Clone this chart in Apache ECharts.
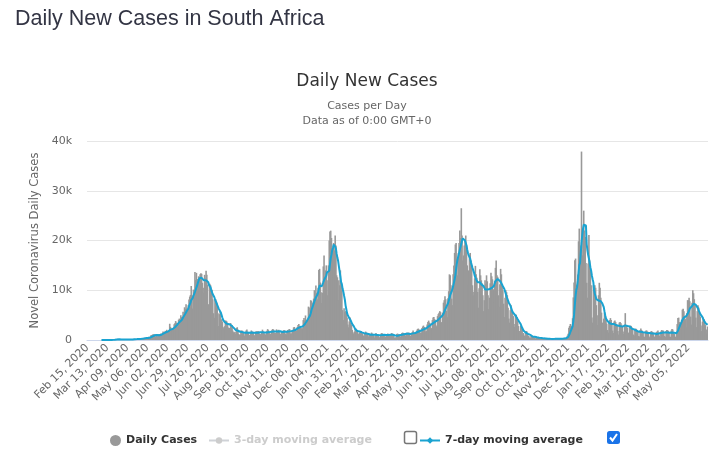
<!DOCTYPE html>
<html>
<head>
<meta charset="utf-8">
<title>Daily New Cases in South Africa</title>
<script src="https://cdn.jsdelivr.net/npm/echarts@6/dist/echarts.min.js"></script>
<style>
  html, body { margin: 0; padding: 0; background: #fff; }
  #chart { width: 722px; height: 459px; }
</style>
</head>
<body>
<div id="chart"></div>
<script>
// daily new cases (Feb 15, 2020 -> May 31, 2022)
const cases2020 = [
  0,0,0,0,0,0,0,0,0,0,0,0,0,0,0, // Feb 15-29
  0,0,0,0,1,0,1,1,4,0,6,4,7,14,13,11,23,31,34,52,38,72,128,152,155,218,243,17,110,46,27, // Mar
  109,82,80,120,79,69,37,78,89,96,25,145,85,86,139,203,178,251,138,142,124,215,318,267,277,143,187,322,354,297, // Apr
  424,385,447,437,250,424,511,663,595,665,1005,577,1102,1160,1079,1083,716,1160,767,767,1134,1193,1162,1282,1218,1240,1716,1579,1606,1837,1716, // May
  2055,1658,1634,1674,3267,2642,2312,1645,2360,2430,3147,3359,3809,3494,2580,3438,4078,4302,3825,4966,4621,4288,5688,4518,6579,6215,7210,6334,6130,7000, // Jun
  8124,8728,9063,10853,8971,6336,10134,8810,13674,12058,13497,12278,10000,12800,12500,13200,13400,13300,11500,9500,10500,13100,12400,13944,13100,11100,7200,6400,11300,11000,10100, // Jul
  10107,8195,5377,4456,8307,8148,7712,7346,5385,2810,5195,5847,4086,4173,3692,2541,2258,2775,3916,3880,3707,3398,2505,2105,2426,3409,2997,3000,1895,1567,1502, // Aug
  1675,1218,2420,2563,2046,1212,1051,1079,1923,1884,1871,1440,1133,772,1373,1923,2128,1587,1553,925,1008,1554,1923,1700,1645,1568,961,832,1689,1767, // Sep
  1688,1807,1672,1271,1145,1216,1573,2081,1707,1549,1200,1015,1284,1864,2192,1979,1563,1107,1242,1744,2056,2191,2065,1484,1078,1405,2142,1928,1884,2055,1543, // Oct
  1259,1100,1629,1778,1877,2023,1935,1271,1149,1606,2023,1934,2213,2101,1310,1303,1933,1954,2536,2608,2280,1839,1893,2634,3010,3220,2843,2806,2270,2389, // Nov
  2346,4000,4400,3877,4932,3313,3523,4011,6709,5163,6510,7999,7882,6143,7552,8319,10008,9126,10939,9501,8166,10500,14046,14305,11552,9580,7458,9502,14796,17000,12601 // Dec
];
const cases2021 = [
  14000,15002,12000,9000,15000,20000,21832,21980,20500,18000,12500,19500,18000,21000,19000,13000,12600,8000,12000,11000,14000,11000,10000,6000,4000,6400,5600,5800,5500,4500,3100, // Jan
  2548,3742,4525,3474,2999,2036,1510,1200,1700,2300,2300,1900,1700,1300,1000,1500,1800,1800,1600,1300,900,700,1300,1700,1500,1300,1200,700, // Feb
  1000,600,1100,1500,1300,1200,900,500,900,1400,1200,1100,1000,600,500,1000,1300,1400,1200,1100,900,500,700,1200,1100,1300,1200,900,600,1000,1400, // Mar
  1300,1000,800,500,400,600,1200,1300,1100,1200,1000,600,900,1400,1500,1400,1300,1000,800,1300,1500,1400,1500,1200,900,800,1400,1600,1900,1500, // Apr
  1500,1200,1100,1900,2200,2300,2100,1900,1400,1500,2400,2700,2900,2600,2500,1700,1800,3100,3600,3900,3500,3300,2200,2400,4000,4500,4600,4200,4000,2900,2600, // May
  4800,5200,5500,5800,5600,3600,3200,5500,7500,8000,8800,8200,5900,4600,8400,9800,13200,13000,11000,8300,7000,13200,15000,17500,19200,19500,16300,13000,17500,19500, // Jun
  22000,20500,26485,21000,16000,17000,19000,20000,21000,19000,15000,11000,14000,17000,17500,16000,15000,11000,9000,9700,12400,14900,13200,12500,9700,6500,10400,14200,13000,12000,11400, // Jul
  9000,5800,8000,12000,11300,13000,11800,9000,6200,8500,11400,13500,12800,12200,10200,7500,11900,14500,16000,13000,12700,9000,6700,11200,14300,13200,11200,10000,7300,4600,8500, // Aug
  10000,9600,9000,6500,4300,3500,6000,7000,6200,5900,4800,3200,2600,5000,5100,4600,3800,2800,1800,1400,2900,2500,2000,1100,1400,900,700,1700,1800,1200, // Sep
  900,800,500,400,800,900,700,650,600,400,300,500,600,550,500,350,250,200,350,450,350,350,300,200,150,250,350,300,280,220,150, // Oct
  120,180,300,280,330,250,180,110,250,360,320,310,220,160,200,330,400,380,450,420,310,280,868,1275,2465,2828,3220,2858,2273,4373, // Nov
  8561,11535,16055,16366,11125,6381,13147,19842,22391,19018,17857,37875,17000,22000,26000,22000,20713,15500,11500,8500,15400,21100,16000,14000,11000,4500,3500,11000,10000,11000,10500 // Dec
];
const cases2022 = [
  7000,5000,3000,9000,11500,10500,8500,5500,3500,2400,4300,5500,4900,4300,3300,2000,1500,3600,4000,4400,4000,3000,1900,1400,3700,3900,3600,3200,2800,1800,1100, // Jan
  3500,3600,3400,3100,2700,1700,1200,3100,5400,3000,2800,2400,1500,1200,2600,2900,2800,2500,2100,1100,900,2000,2300,2200,1900,1600,800,700, // Feb
  2000,2300,2000,1800,1400,700,600,1700,1900,1900,1700,1300,700,500,1600,1800,1700,1600,1200,700,600,1100,1600,1700,1900,1500,900,600,1700,2000,1900, // Mar
  1900,1500,800,600,1800,2000,2000,1800,1400,700,600,1900,2200,2100,1600,1200,700,600,1200,3200,4400,4500,3600,3500,2200,4000,6100,6300,5800,4600, // Apr
  4200,2500,5400,8000,8000,8500,7800,4700,3100,7500,10000,9400,8200,7000,4500,2600,5800,7000,6500,5600,4700,2900,1800,3700,4500,4200,3700,3000,2100,1300,2700 // May
];
const dailyCases = cases2020.concat(cases2021, cases2022);

const yTicks = [0, 10000, 20000, 30000, 40000];
const MONTHS = ['Jan','Feb','Mar','Apr','May','Jun','Jul','Aug','Sep','Oct','Nov','Dec'];
const startDay = Date.UTC(2020, 1, 15);
const dates = dailyCases.map((_, i) => {
  const d = new Date(startDay + i * 86400000);
  return MONTHS[d.getUTCMonth()] + ' ' + String(d.getUTCDate()).padStart(2, '0') + ', ' + d.getUTCFullYear();
});

// trailing moving average, starting at the first reported case
const firstCase = dailyCases.findIndex(v => v > 0);
function movingAvg(values, n) {
  return values.map((v, i) => {
    if (i < firstCase) return null;
    let s = 0;
    for (let k = i - n + 1; k <= i; k++) s += k >= 0 ? values[k] : 0;
    return Math.round(s / n);
  });
}
const avg3 = movingAvg(dailyCases, 3);
const avg7 = movingAvg(dailyCases, 7);

const FONT = 'DejaVu Sans';
const LINE = '#1aa3d1';

const chart = echarts.init(document.getElementById('chart'));
chart.setOption({
  animation: false,
  grid: { left: 87, right: 14, top: 141, bottom: 119 },
  xAxis: {
    type: 'category',
    data: dates,
    boundaryGap: true,
    axisTick: { show: false },
    axisLine: { lineStyle: { color: '#ccd6eb' } },
    axisLabel: { interval: 26, rotate: 45, color: '#666', fontSize: 11, fontFamily: FONT, margin: 6 }
  },
  yAxis: {
    type: 'value',
    min: yTicks[0],
    max: yTicks[yTicks.length - 1],
    interval: 10000,
    name: 'Novel Coronavirus Daily Cases',
    nameLocation: 'middle',
    nameGap: 44,
    nameTextStyle: { color: '#666', fontSize: 11.5, fontFamily: FONT },
    axisLine: { show: false },
    axisTick: { show: false },
    axisLabel: {
      color: '#666', fontSize: 11, fontFamily: FONT, margin: 15,
      formatter: v => (v === 0 ? '0' : v / 1000 + 'k')
    },
    splitLine: { lineStyle: { color: '#e6e6e6' } }
  },
  legend: [
    {
      data: [{ name: 'Daily Cases', icon: 'circle' }],
      left: 105, top: 430, itemWidth: 11, itemHeight: 11,
      textStyle: { fontFamily: FONT, fontSize: 11, fontWeight: 'bold', color: '#333' }
    },
    {
      data: ['3-day moving average'],
      selected: { '3-day moving average': false },
      left: 203, top: 430, itemWidth: 20, itemHeight: 8,
      inactiveColor: '#ccc',
      textStyle: { fontFamily: FONT, fontSize: 11, fontWeight: 'bold', color: '#333' }
    },
    {
      data: ['7-day moving average'],
      left: 414, top: 430, itemWidth: 20, itemHeight: 8,
      textStyle: { fontFamily: FONT, fontSize: 11, fontWeight: 'bold', color: '#333' }
    }
  ],
  graphic: [
    { type: 'text', style: { text: 'Daily New Cases in South Africa', x: 15, y: 19, verticalAlign: 'middle',
        font: '21.5px "Liberation Sans", Arial, sans-serif', fill: '#333544' } },
    { type: 'text', style: { text: 'Daily New Cases', x: 367, y: 81.5, align: 'center', verticalAlign: 'middle',
        font: '17px "DejaVu Sans"', fill: '#333' } },
    { type: 'text', style: { text: 'Cases per Day', x: 367, y: 106, align: 'center', verticalAlign: 'middle',
        font: '11px "DejaVu Sans"', fill: '#666' } },
    { type: 'text', style: { text: 'Data as of 0:00 GMT+0', x: 367, y: 121, align: 'center', verticalAlign: 'middle',
        font: '11px "DejaVu Sans"', fill: '#666' } },
    // legend checkboxes
    { type: 'rect', shape: { x: 404.5, y: 431.5, width: 12, height: 12, r: 2 },
      style: { fill: '#fff', stroke: '#767676', lineWidth: 1.5 } },
    { type: 'rect', shape: { x: 607, y: 431, width: 13, height: 13, r: 2.5 },
      style: { fill: '#1a73e8' } },
    { type: 'polyline', shape: { points: [[610, 437.5], [612.5, 440.5], [617, 434]] },
      style: { stroke: '#fff', lineWidth: 2, fill: null } }
  ],
  series: [
    {
      name: 'Daily Cases',
      type: 'bar',
      data: dailyCases,
      barWidth: 1.6,
      itemStyle: { color: '#999999' }
    },
    {
      name: '3-day moving average',
      type: 'line',
      data: avg3,
      symbol: 'circle',
      symbolSize: 7,
      showSymbol: false,
      lineStyle: { width: 2, color: '#aaa' },
      itemStyle: { color: '#aaa' }
    },
    {
      name: '7-day moving average',
      type: 'line',
      data: avg7,
      symbol: 'diamond',
      symbolSize: 8,
      showSymbol: false,
      lineStyle: { width: 2, color: LINE },
      itemStyle: { color: LINE }
    }
  ]
});
</script>
</body>
</html>
